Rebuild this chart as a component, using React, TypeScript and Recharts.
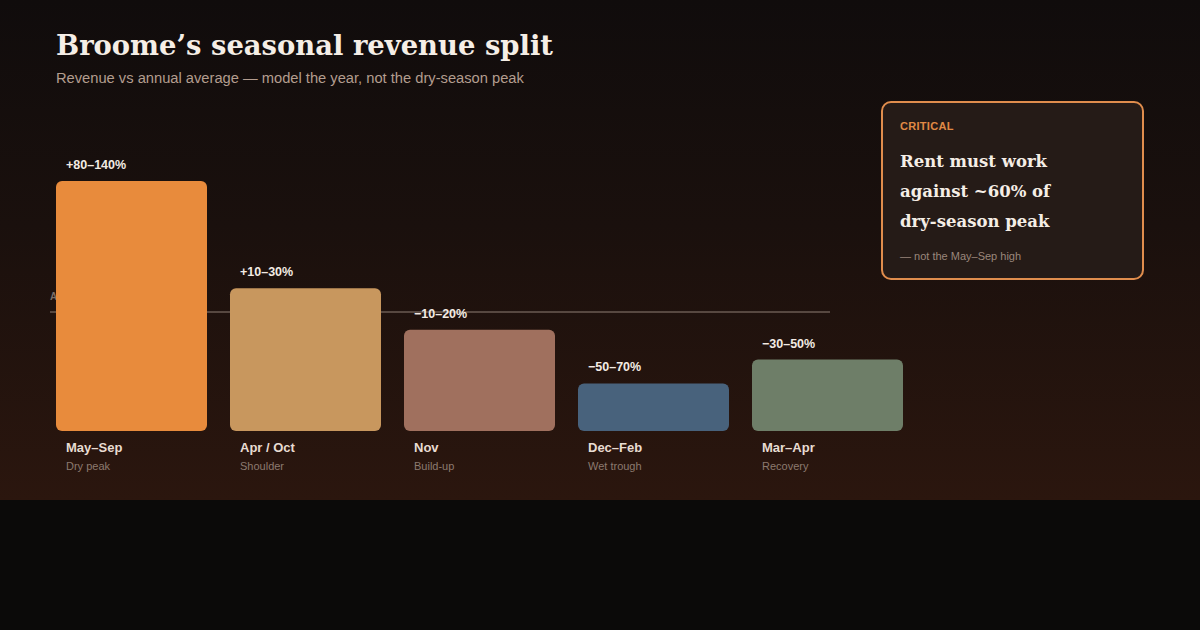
import React from "react";
import { Bar, BarChart, Cell, LabelList, ReferenceLine, XAxis, YAxis } from "recharts";

// seasons, left to right
const seasons = ["May–Sep", "Apr / Oct", "Nov", "Dec–Feb", "Mar–Apr"];
const seasonNotes = ["Dry peak", "Shoulder", "Build-up", "Wet trough", "Recovery"];
// revenue as a multiple of the annual average (1.0 = average)
const revenueVsAvg = [2.1, 1.2, 0.85, 0.4, 0.6];
const rangeLabels = ["+80–140%", "+10–30%", "−10–20%", "−50–70%", "−30–50%"];
const barColors = ["#e88b3c", "#c8975e", "#a0705e", "#48627c", "#6e7e68"];

const data = seasons.map((season, i) => ({
  season,
  note: seasonNotes[i],
  value: revenueVsAvg[i],
  range: rangeLabels[i],
}));

const sans = "'Liberation Sans', Arial, sans-serif";
const serif = "Georgia, 'DejaVu Serif', serif";

function SeasonTick(props: any) {
  const { x, y, payload, index } = props;
  const left = x - 65.5;
  return (
    <g>
      <text x={left} y={y + 13} fill="#e8dcd2" fontSize={13} fontWeight={700} fontFamily={sans}>
        {payload.value}
      </text>
      <text x={left} y={y + 31} fill="#8c7a6f" fontSize={11} fontFamily={sans}>
        {seasonNotes[index]}
      </text>
    </g>
  );
}

function RangeLabel(props: any) {
  const { x, y, value } = props;
  return (
    <text x={x + 10} y={y - 12} fill="#f3ebe4" fontSize={12.5} fontWeight={700} fontFamily={sans}>
      {value}
    </text>
  );
}

function AvgLine(props: any) {
  const { x1, x2, y1 } = props;
  return (
    <g>
      <text x={x1 + 5.5} y={y1 - 12} fill="#7d6f68" fontSize={10} fontWeight={700} fontFamily={sans} letterSpacing={1}>
        ANNUAL AVERAGE
      </text>
      <line x1={x1 + 5.5} x2={x2 - 84.5} y1={y1} y2={y1} stroke="#8f7f74" strokeWidth={1} />
    </g>
  );
}

export default function App() {
  return (
    <div style={{ position: "absolute", left: 0, top: 0, width: 1200, height: 630, background: "#0b0a09" }}>
      <div
        style={{
          position: "relative",
          width: 1200,
          height: 500,
          background: "linear-gradient(180deg, #100c0c 0%, #1a100d 45%, #2b160e 100%)",
        }}
      >
        {/* Title block */}
        <div
          style={{
            position: "absolute",
            left: 56,
            top: 29,
            fontFamily: serif,
            fontWeight: 700,
            fontSize: 27.4,
            color: "#f5eee6",
            whiteSpace: "nowrap",
          }}
        >
          Broome’s seasonal revenue split
        </div>
        <div
          style={{
            position: "absolute",
            left: 56,
            top: 70,
            fontFamily: sans,
            fontSize: 14.7,
            color: "#b39d8f",
            whiteSpace: "nowrap",
          }}
        >
          Revenue vs annual average — model the year, not the dry-season peak
        </div>

        {/* Chart */}
        <div style={{ position: "absolute", left: 0, top: 0 }}>
          <BarChart
            width={1200}
            height={500}
            data={data}
            margin={{ top: 133.5, left: 44.5, right: 285.5, bottom: 0 }}
            barCategoryGap={11.5}
          >
            <XAxis
              dataKey="season"
              axisLine={false}
              tickLine={false}
              height={69}
              interval={0}
              tick={<SeasonTick />}
            />
            <YAxis hide domain={[0, 2.5]} />
            <ReferenceLine y={1} shape={<AvgLine />} zIndex={0} />
            <Bar dataKey="value" radius={6} isAnimationActive={false}>
              {data.map((d, i) => (
                <Cell key={d.season} fill={barColors[i]} />
              ))}
              <LabelList dataKey="range" content={<RangeLabel />} />
            </Bar>
          </BarChart>
        </div>

        {/* Callout card */}
        <div
          style={{
            position: "absolute",
            left: 881,
            top: 101,
            width: 263,
            height: 179,
            boxSizing: "border-box",
            border: "2px solid #e08d4d",
            borderRadius: 10,
            background: "#251b17",
            padding: "16px 17px",
          }}
        >
          <div
            style={{
              fontFamily: sans,
              fontSize: 11,
              fontWeight: 700,
              color: "#e08a45",
              letterSpacing: 0.3,
              lineHeight: "14px",
            }}
          >
            CRITICAL
          </div>
          <div
            style={{
              marginTop: 14,
              fontFamily: serif,
              fontWeight: 700,
              fontSize: 16.5,
              lineHeight: "30px",
              color: "#f5eee6",
            }}
          >
            Rent must work
            <br />
            against ~60% of
            <br />
            dry-season peak
          </div>
          <div style={{ marginTop: 13, fontFamily: sans, fontSize: 11, color: "#9b877b" }}>
            — not the May–Sep high
          </div>
        </div>
      </div>
    </div>
  );
}
